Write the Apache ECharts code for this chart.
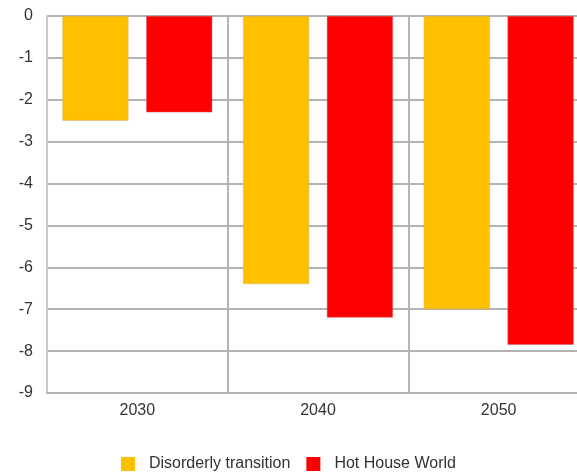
<!DOCTYPE html>
<html>
<head>
<meta charset="utf-8">
<script src="https://cdn.jsdelivr.net/npm/echarts@6/dist/echarts.min.js"></script>
<style>
  html, body { margin: 0; padding: 0; background: #ffffff; }
  #chart { width: 577px; height: 475px; }
</style>
</head>
<body>
<div id="chart"></div>
<script>
// Scenario years and the change (%) under each scenario
const categories = ['2030', '2040', '2050'];
const disorderly = [-2.5, -6.4, -7.0];
const hotHouse = [-2.3, -7.2, -7.85];
const seriesNames = ['Disorderly transition', 'Hot House World'];
const yTicks = { min: -9, max: 0, interval: 1 };

const gridColor = '#b4b4b4';
const labelStyle = { color: '#333333', fontSize: 16, fontFamily: 'Liberation Sans, Arial, sans-serif' };

const chart = echarts.init(document.getElementById('chart'));
chart.setOption({
  animation: false,
  backgroundColor: '#ffffff',
  // the plot runs past the right edge of the canvas
  grid: {
    left: 47, top: 16, width: 542, height: 377,
    containLabel: false,
    outerBoundsMode: 'none'
  },
  legend: {
    top: 456,
    left: 121,
    padding: 0,
    itemWidth: 14,
    itemHeight: 14,
    itemGap: 16,
    icon: 'rect',
    itemStyle: { borderWidth: 0 },
    textStyle: Object.assign({}, labelStyle, { padding: [0, 0, 0, 9] }),
    data: seriesNames
  },
  xAxis: {
    type: 'category',
    data: categories,
    position: 'bottom',
    axisLine: { onZero: false, lineStyle: { color: gridColor, width: 2 } },
    axisTick: { show: false },
    axisLabel: Object.assign({ margin: 10 }, labelStyle),
    splitLine: { show: true, lineStyle: { color: gridColor, width: 2 } }
  },
  yAxis: {
    type: 'value',
    min: yTicks.min,
    max: yTicks.max,
    interval: yTicks.interval,
    axisLine: { show: true, lineStyle: { color: '#c8c8c8', width: 2 } },
    axisTick: { show: false },
    axisLabel: Object.assign({ margin: 14 }, labelStyle),
    splitLine: { show: true, lineStyle: { color: gridColor, width: 2 } }
  },
  series: [
    {
      name: seriesNames[0],
      type: 'bar',
      data: disorderly,
      barWidth: 66,
      barGap: '27%',
      itemStyle: { color: '#FFC000', borderColor: '#c8b070', borderWidth: 0.5 }
    },
    {
      name: seriesNames[1],
      type: 'bar',
      data: hotHouse,
      barWidth: 66,
      barGap: '27%',
      itemStyle: { color: '#FF0000', borderColor: '#c86060', borderWidth: 0.5 }
    }
  ]
});
</script>
</body>
</html>
